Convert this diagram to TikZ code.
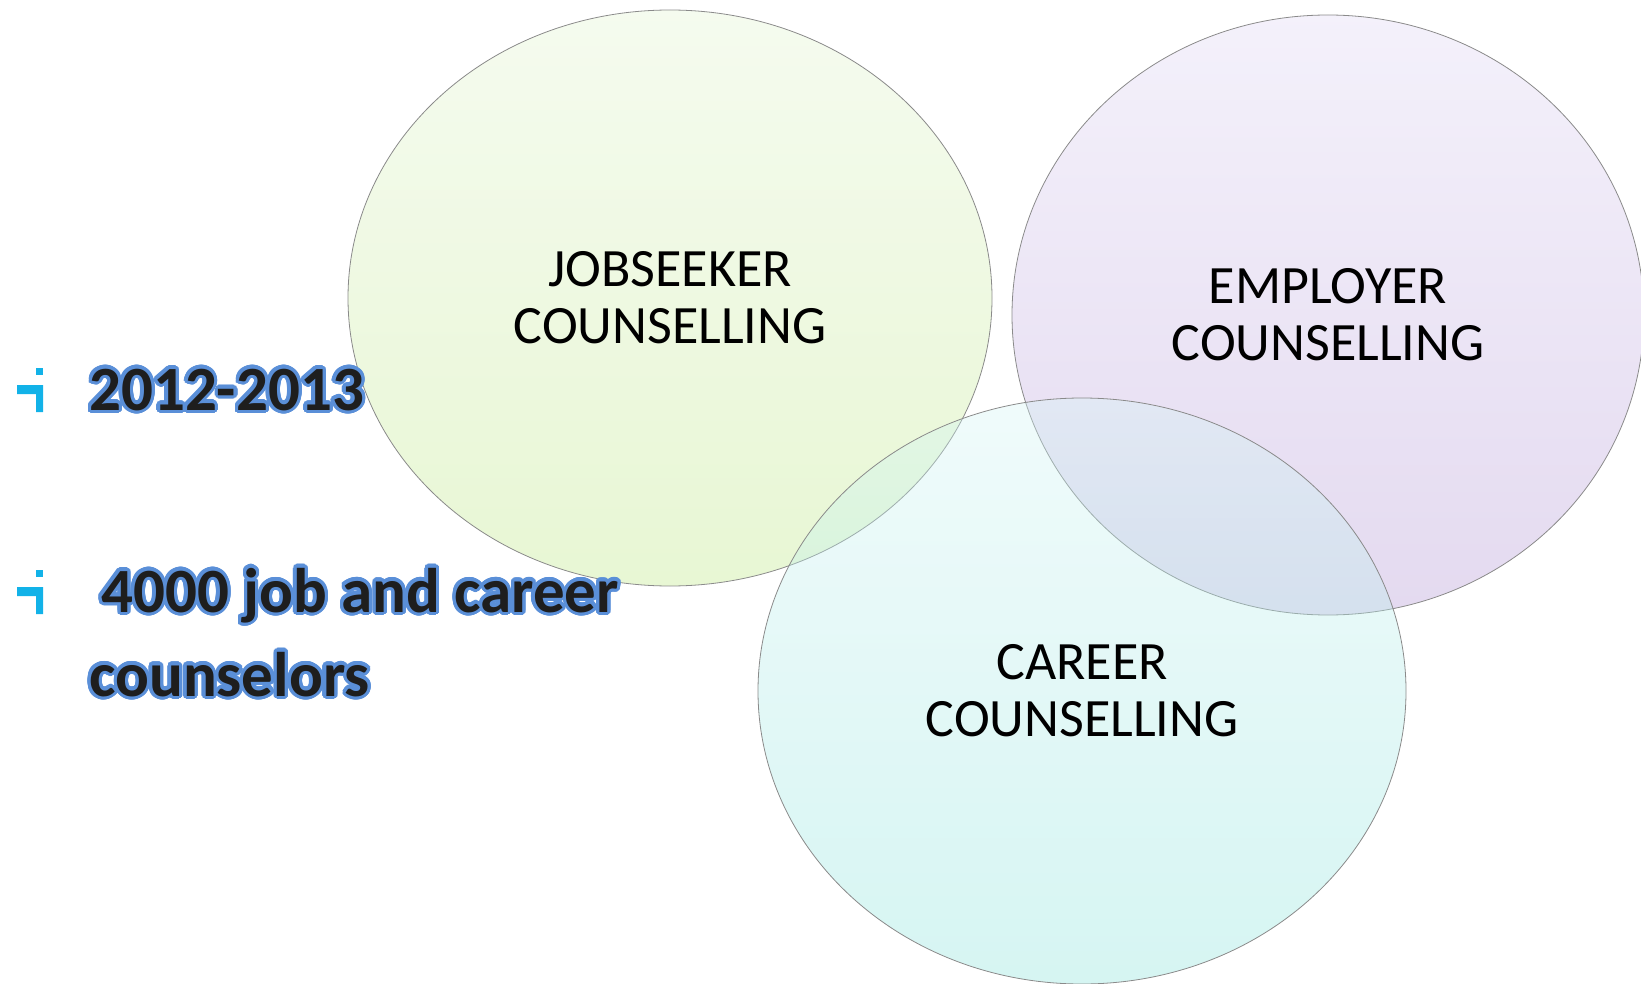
\documentclass[tikz,border=0pt]{standalone}
\usepackage{fontspec}
\setmainfont{Carlito}
\usepackage[copies]{contour}
\contourlength{3.2pt}
\contournumber{32}
\usetikzlibrary{shapes.geometric}
\definecolor{gtop}{HTML}{EBF7DF}
\definecolor{gbot}{HTML}{D1EFA9}
\definecolor{ptop}{HTML}{E9E3F7}
\definecolor{pbot}{HTML}{C9B5E1}
\definecolor{ctop}{HTML}{D4F4F4}
\definecolor{cbot}{HTML}{88E2DA}
\definecolor{outl}{HTML}{5A8FD8}
\definecolor{txt}{HTML}{1E1E1E}
\definecolor{bul}{HTML}{12B2E8}
\definecolor{rim}{HTML}{8A8A8A}
\tikzset{
  venn/.style={ellipse, draw=rim, line width=0.8pt, fill opacity=0.5, text opacity=1,
    inner sep=0pt, align=center, text=black, font=\fontsize{54}{57}\selectfont},
  lefttxt/.style={anchor=base west, inner sep=0pt, text=txt,
    font=\bfseries\fontsize{63}{70}\selectfont},
  bulshape/.style={fill=bul, draw=none}
}
\newcommand\bulmark[1]{%
  \fill[bulshape] (36,#1-42) rectangle (43,#1-35);
  \fill[bulshape] (17,#1-25) -- (43,#1-25) -- (43,#1+2) -- (36,#1+2) -- (36,#1-16) -- (17,#1-16) -- cycle;
}
\begin{document}
\begin{tikzpicture}[x=1pt,y=-1pt]
\useasboundingbox (0,0) rectangle (1641,984);
\clip (0,0) rectangle (1641,984);
\node[venn, top color=gtop, bottom color=gbot, minimum width=644pt, minimum height=576pt]
  (js) at (670,298) {JOBSEEKER\\COUNSELLING};
\node[venn, top color=ptop, bottom color=pbot, minimum width=632pt, minimum height=600pt]
  (emp) at (1328,315) {EMPLOYER\\COUNSELLING};
\node[venn, fill opacity=0.35, top color=ctop, bottom color=cbot, minimum width=648pt, minimum height=586pt]
  (car) at (1082,691) {CAREER\\COUNSELLING};
\bulmark{410}
\bulmark{612}
\node[lefttxt] (yr) at (89,410) {\contour{outl}{2012-2013}};
\node[lefttxt] (cnt) at (89,612) {\hspace{12pt}\contour{outl}{4000 job and career}};
\node[lefttxt] (cnt2) at (89,696) {\contour{outl}{counselors}};
\end{tikzpicture}
\end{document}
